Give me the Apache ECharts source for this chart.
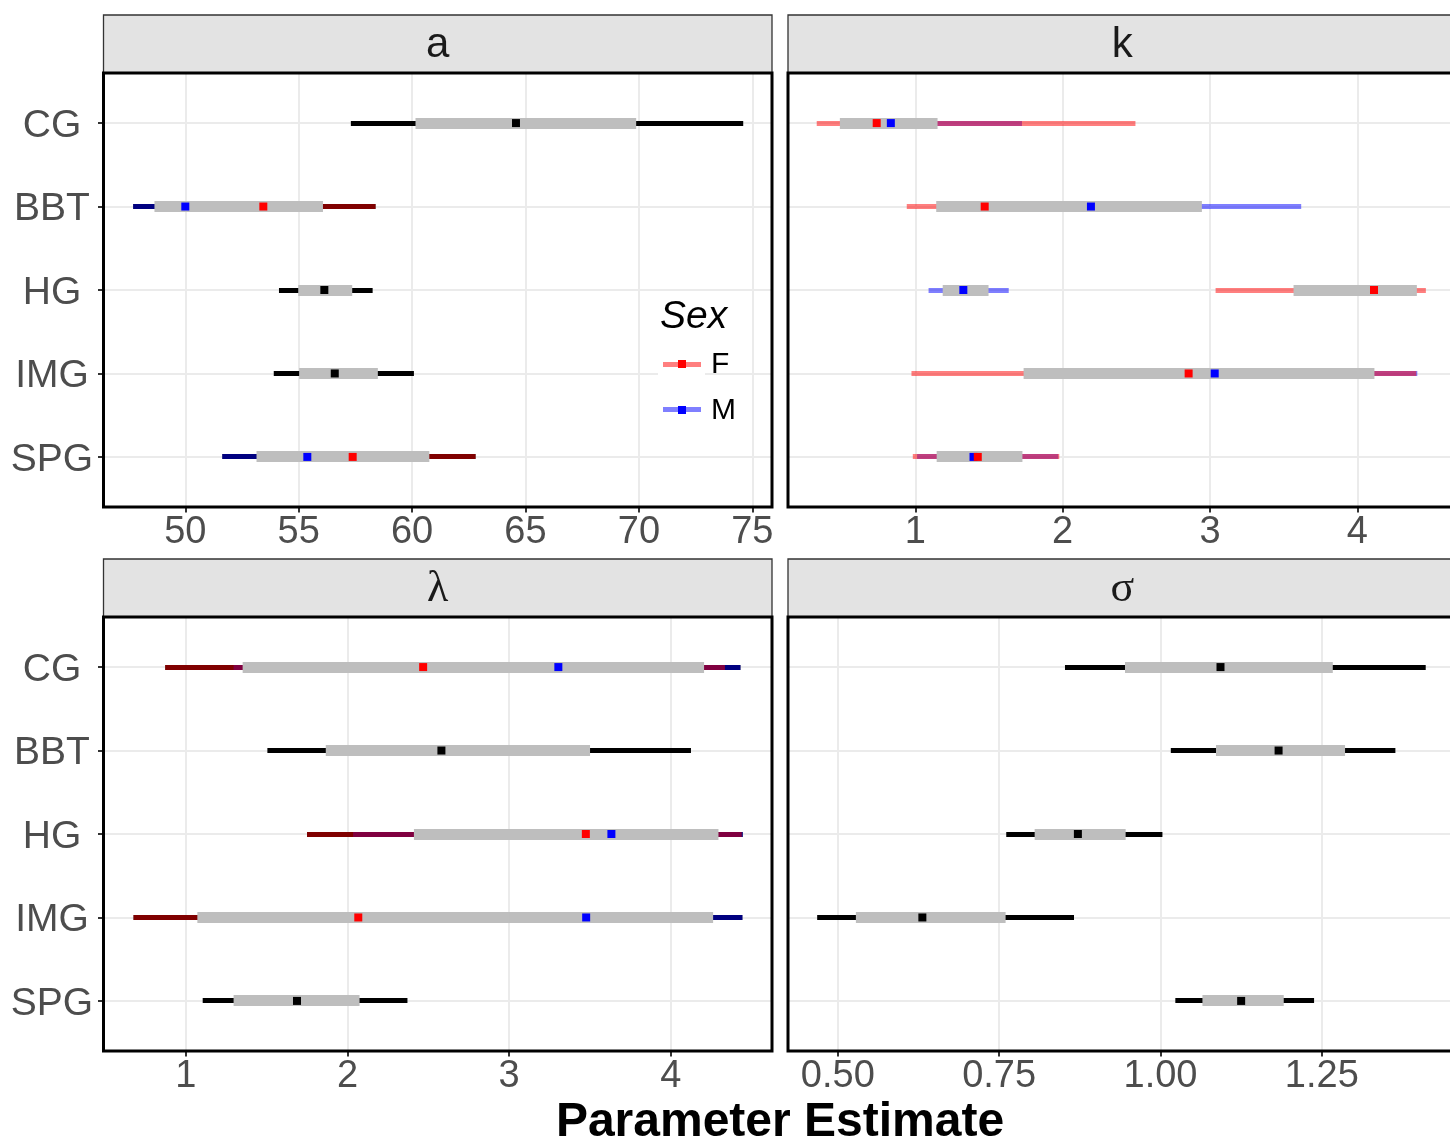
<!DOCTYPE html>
<html>
<head>
<meta charset="utf-8">
<script src="https://cdn.jsdelivr.net/npm/echarts@6/dist/echarts.min.js"></script>
<style>
  html, body { margin: 0; padding: 0; background: #ffffff; }
  #chart { width: 1450px; height: 1143px; }
</style>
</head>
<body>
<div id="chart"></div>
<script>
// Sites on the vertical axis, top to bottom
const sites = ['CG', 'BBT', 'HG', 'IMG', 'SPG'];
const sexes = ['F', 'M'];
const panelNames = ['a', 'k', 'λ', 'σ'];

// Rows: [site, group, lower95, upper95, lower50, upper50, median]; group 'All' = sexes pooled
const aEstimates = [
  ['CG',  'All', 57.30, 74.60, 60.15, 69.88, 64.58],
  ['BBT', 'M',   47.70, 54.20, 48.64, 51.60, 50.00],
  ['BBT', 'F',   50.90, 58.39, 51.30, 56.07, 53.44],
  ['HG',  'All', 54.13, 58.26, 54.98, 57.36, 56.13],
  ['IMG', 'All', 53.90, 60.08, 55.02, 58.49, 56.59],
  ['SPG', 'M',   51.63, 59.00, 53.14, 57.20, 55.38],
  ['SPG', 'F',   54.00, 62.80, 55.60, 60.76, 57.38]
];
const kEstimates = [
  ['CG',  'M', 0.520, 1.724, 0.600, 1.151, 0.834],
  ['CG',  'F', 0.331, 2.494, 0.488, 1.050, 0.738],
  ['BBT', 'M', 1.300, 3.619, 1.600, 2.945, 2.192],
  ['BBT', 'F', 0.942, 2.600, 1.142, 2.000, 1.471],
  ['HG',  'M', 1.090, 1.634, 1.186, 1.497, 1.326],
  ['HG',  'F', 3.038, 4.465, 3.567, 4.404, 4.113],
  ['IMG', 'M', 1.900, 4.407, 2.300, 4.116, 3.032],
  ['IMG', 'F', 0.974, 4.400, 1.735, 3.900, 2.855],
  ['SPG', 'M', 1.012, 1.970, 1.160, 1.727, 1.395],
  ['SPG', 'F', 0.983, 1.977, 1.145, 1.700, 1.424]
];
const lambdaEstimates = [
  ['CG',  'M',   1.296, 4.430, 2.100, 4.205, 3.304],
  ['CG',  'F',   0.873, 4.334, 1.352, 3.600, 2.468],
  ['BBT', 'All', 1.505, 4.124, 1.866, 3.500, 2.581],
  ['HG',  'M',   2.035, 4.444, 2.800, 4.294, 3.632],
  ['HG',  'F',   1.750, 4.438, 2.411, 4.200, 3.474],
  ['IMG', 'M',   1.500, 4.442, 2.600, 4.261, 3.476],
  ['IMG', 'F',   0.677, 3.900, 1.072, 3.000, 2.067],
  ['SPG', 'All', 1.105, 2.371, 1.296, 2.075, 1.688]
];
const sigmaEstimates = [
  ['CG',  'All', 0.852, 1.411, 0.945, 1.267, 1.093],
  ['BBT', 'All', 1.016, 1.364, 1.086, 1.286, 1.183],
  ['HG',  'All', 0.761, 1.003, 0.805, 0.946, 0.872],
  ['IMG', 'All', 0.468, 0.866, 0.528, 0.760, 0.631],
  ['SPG', 'All', 1.023, 1.238, 1.065, 1.191, 1.125]
];

const aTicks = [50, 55, 60, 65, 70, 75];
const kTicks = [1, 2, 3, 4];
const lambdaTicks = [1, 2, 3, 4];
const sigmaTicks = [0.50, 0.75, 1.00, 1.25];

const xTitle = 'Parameter Estimate';
const legendTitle = 'Sex';

// Styling
const SANS = '"Liberation Sans", Arial, Helvetica, sans-serif';
const SERIF = '"Liberation Serif", "Times New Roman", serif';
const lineColors = { All: '#000000', F: 'rgba(255,0,0,0.5)', M: 'rgba(0,0,255,0.5)' };
const pointColors = { All: '#000000', F: '#ff0000', M: '#0000ff' };
const innerColor = '#bebebe';
const gridColor = '#ebebeb';
const THIN = 5, THICK = 11, POINT = [8, 8];

// Facet layout (pixels); the right column runs past the canvas edge
const CANVAS_W = 1450;
const colLeft = [103.5, 788];
const rowTop = [73, 617];
const panelW = 668.5, panelH = 434;
const stripH = 58;

const panels = [
  { label: panelNames[0], rows: aEstimates, ticks: aTicks, min: 46.393, max: 75.869, col: 0, row: 0, pooledUnder: true, decimals: 0, serif: false },
  { label: panelNames[1], rows: kEstimates, ticks: kTicks, min: 0.136, max: 4.673, col: 1, row: 0, pooledUnder: false, decimals: 0, serif: false },
  { label: panelNames[2], rows: lambdaEstimates, ticks: lambdaTicks, min: 0.4917, max: 4.625, col: 0, row: 1, pooledUnder: true, decimals: 0, serif: true },
  { label: panelNames[3], rows: sigmaEstimates, ticks: sigmaTicks, min: 0.4228, max: 1.4587, col: 1, row: 1, pooledUnder: false, decimals: 2, serif: true }
];

// Horizontal bar between two x values at one site row, snapped to whole pixels vertically
function rangeRenderer(thickness, colors) {
  return function (params, api) {
    const y = api.value(2);
    const p0 = api.coord([api.value(0), y]);
    const p1 = api.coord([api.value(1), y]);
    const y0 = Math.round(p0[1] - thickness / 2);
    return {
      type: 'rect',
      shape: { x: p0[0], y: y0, width: p1[0] - p0[0], height: thickness },
      style: { fill: colors ? colors[params.dataIndex] : innerColor }
    };
  };
}

const grids = [], xAxes = [], yAxes = [], series = [], graphics = [];
const siteIdx = [0, 1, 2, 3, 4];

panels.forEach((p, i) => {
  const left = colLeft[p.col], top = rowTop[p.row];
  const visW = Math.min(panelW, CANVAS_W - left);
  const visMax = p.min + (p.max - p.min) * visW / panelW;
  grids.push({ left: left, top: top, width: visW, height: panelH, containLabel: false });

  xAxes.push({
    type: 'value', gridIndex: i, min: p.min, max: visMax, position: 'bottom',
    axisLine: { show: false, onZero: false },
    axisTick: { show: true, customValues: p.ticks, length: 5.5, lineStyle: { color: '#333333', width: 2 } },
    axisLabel: {
      customValues: p.ticks, fontSize: 38, color: '#4d4d4d', fontFamily: SANS, margin: 7,
      formatter: v => Number(v).toFixed(p.decimals)
    },
    splitLine: { show: true, lineStyle: { color: gridColor, width: 2 } }
  });

  yAxes.push({
    type: 'value', gridIndex: i, min: -0.6, max: 4.6, inverse: true, position: 'left',
    axisLine: { show: false, onZero: false },
    axisTick: { show: p.col === 0, customValues: siteIdx, length: 5.5, lineStyle: { color: '#333333', width: 2 } },
    axisLabel: {
      show: p.col === 0, customValues: siteIdx, align: 'center', margin: left - 52,
      formatter: v => '{s|' + sites[Math.round(v)] + '}',
      rich: { s: { fontSize: 39, color: '#4d4d4d', fontFamily: SANS, padding: [6, 0, 0, 0] } }
    },
    splitLine: { show: true, lineStyle: { color: gridColor, width: 2 } }
  });

  // Thin 95% ranges: pooled black under the split rows where present, then M, then F
  const thin = [], thinColors = [];
  if (p.pooledUnder) {
    sites.forEach((s, yi) => {
      const split = p.rows.filter(r => r[0] === s && r[1] !== 'All');
      if (split.length) {
        thin.push([Math.min(...split.map(r => r[2])), Math.max(...split.map(r => r[3])), yi]);
        thinColors.push('#000000');
      }
    });
  }
  p.rows.forEach(r => {
    thin.push([r[2], r[3], sites.indexOf(r[0])]);
    thinColors.push(lineColors[r[1]]);
  });
  const wide = p.rows.map(r => [r[4], r[5], sites.indexOf(r[0])]);
  const pts = p.rows.map(r => ({ value: [r[6], sites.indexOf(r[0])], itemStyle: { color: pointColors[r[1]], opacity: 1 } }));

  series.push({
    type: 'custom', name: p.label + '-95', xAxisIndex: i, yAxisIndex: i, z: 2,
    renderItem: rangeRenderer(THIN, thinColors), encode: { x: [0, 1], y: 2 }, data: thin, silent: true
  });
  series.push({
    type: 'custom', name: p.label + '-50', xAxisIndex: i, yAxisIndex: i, z: 3,
    renderItem: rangeRenderer(THICK, null), encode: { x: [0, 1], y: 2 }, data: wide, silent: true
  });
  series.push({
    type: 'scatter', name: p.label + '-median', xAxisIndex: i, yAxisIndex: i, z: 4,
    symbol: 'rect', symbolSize: POINT, itemStyle: { opacity: 1 }, data: pts, silent: true
  });

  // Facet strip
  graphics.push({
    type: 'rect', z: 50,
    shape: { x: left, y: top - stripH, width: panelW, height: stripH },
    style: { fill: '#e3e3e3', stroke: '#333333', lineWidth: 1.3 }
  });
  graphics.push({
    type: 'text', z: 51, x: left + panelW / 2, y: top - stripH / 2 + 1,
    style: {
      text: p.label, fontSize: p.serif ? 44 : 42, fontFamily: p.serif ? SERIF : SANS, fill: '#1a1a1a',
      align: 'center', verticalAlign: 'middle'
    }
  });
  // Panel border
  graphics.push({
    type: 'rect', z: 60,
    shape: { x: left, y: top, width: panelW, height: panelH },
    style: { fill: 'none', stroke: '#000000', lineWidth: 3 }
  });
});

// Legend for the sex colours, inside panel a
const legX = 660, legY = 317;
graphics.push({
  type: 'text', z: 70, x: legX, y: legY,
  style: { text: legendTitle, fontSize: 39, fontStyle: 'italic', fontFamily: SANS, fill: '#000000', align: 'left', verticalAlign: 'middle' }
});
sexes.forEach((s, j) => {
  const cy = 364 + j * 45.5;
  graphics.push({ type: 'rect', z: 70, shape: { x: 658, y: cy - 23, width: 47, height: 46 }, style: { fill: '#ffffff' } });
  graphics.push({ type: 'rect', z: 71, shape: { x: 663, y: Math.round(cy - THIN / 2), width: 38, height: THIN }, style: { fill: lineColors[s] } });
  graphics.push({ type: 'rect', z: 72, shape: { x: 682 - POINT[0] / 2, y: Math.round(cy - POINT[1] / 2), width: POINT[0], height: POINT[1] }, style: { fill: pointColors[s] } });
  graphics.push({
    type: 'text', z: 72, x: 711, y: cy + 1,
    style: { text: s, fontSize: 30, fontFamily: SANS, fill: '#000000', align: 'left', verticalAlign: 'middle' }
  });
});

// Shared x-axis title
graphics.push({
  type: 'text', z: 70, x: colLeft[0] + (colLeft[1] + panelW - colLeft[0]) / 2, y: 1123,
  style: { text: xTitle, fontSize: 48, fontWeight: 'bold', fontFamily: SANS, fill: '#000000', align: 'center', verticalAlign: 'middle' }
});

const chart = echarts.init(document.getElementById('chart'), null, { renderer: 'canvas' });
chart.setOption({
  backgroundColor: '#ffffff',
  animation: false,
  grid: grids,
  xAxis: xAxes,
  yAxis: yAxes,
  series: series,
  graphic: { elements: graphics }
});
</script>
</body>
</html>
